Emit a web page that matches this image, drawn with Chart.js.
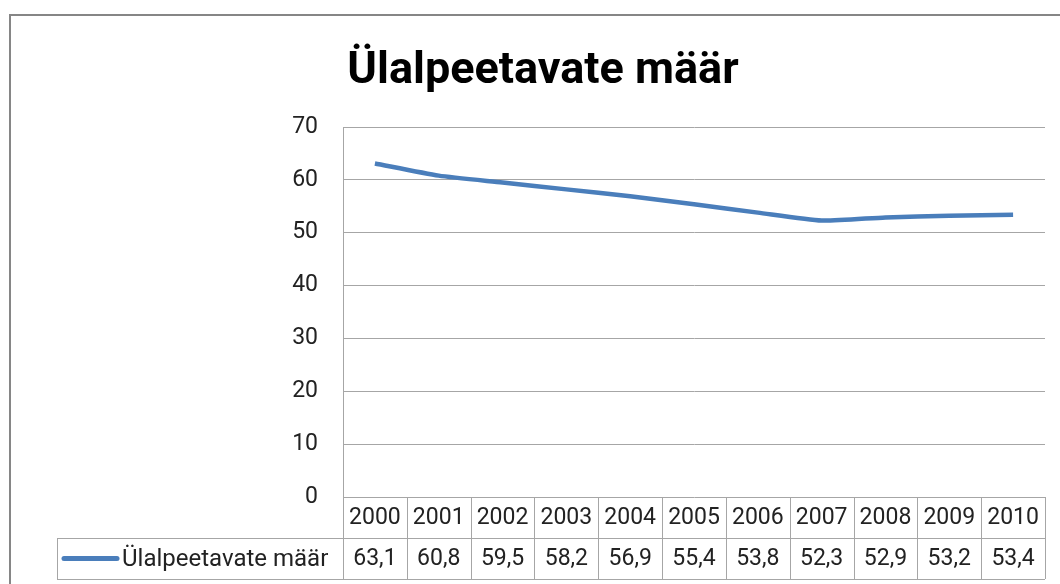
<!DOCTYPE html>
<html>
<head>
<meta charset="utf-8">
<script src="https://cdn.jsdelivr.net/npm/chart.js@4"></script>
<style>
  html, body { margin: 0; padding: 0; background: #fff; }
  #wrap { width: 1060px; height: 584px; }
</style>
</head>
<body>
<div id="wrap"><canvas id="chart" width="1060" height="584"></canvas></div>
<script>
// --- DATA ---
const years = ["2000", "2001", "2002", "2003", "2004", "2005", "2006", "2007", "2008", "2009", "2010"];
const values = [63.1, 60.8, 59.5, 58.2, 56.9, 55.4, 53.8, 52.3, 52.9, 53.2, 53.4];
const seriesName = "Ülalpeetavate määr";
const yMin = 0, yMax = 70, yStep = 10;

const FONT = "Roboto, 'Noto Sans', sans-serif";
const LINE_COLOR = "#4A7EBB";
const GRID_COLOR = "#a6a6a6";
const TEXT_COLOR = "#222";

// outer frame of the chart object
const framePlugin = {
  id: "frame",
  beforeDraw(chart) {
    const ctx = chart.ctx;
    ctx.save();
    ctx.strokeStyle = "#868686";
    ctx.lineWidth = 2;
    ctx.strokeRect(10, 15, 1200, 800);
    ctx.restore();
  }
};

// data table under the plot (Excel style)
const dataTablePlugin = {
  id: "dataTable",
  afterDraw(chart) {
    const ctx = chart.ctx;
    const x = chart.scales.x;
    const area = chart.chartArea;
    const half = (x.getPixelForValue(1) - x.getPixelForValue(0)) / 2;
    const top = area.bottom;
    const mid = 538;
    const bottom = 579;
    const legendLeft = 57;

    ctx.save();
    ctx.strokeStyle = GRID_COLOR;
    ctx.lineWidth = 1;
    ctx.beginPath();
    // horizontal lines
    ctx.moveTo(legendLeft, mid + 0.5); ctx.lineTo(area.right, mid + 0.5);
    ctx.moveTo(legendLeft, bottom + 0.5); ctx.lineTo(area.right, bottom + 0.5);
    // vertical lines
    ctx.moveTo(legendLeft + 0.5, mid); ctx.lineTo(legendLeft + 0.5, bottom);
    for (let i = 0; i <= years.length; i++) {
      const bx = Math.round(x.getPixelForValue(0) - half + i * 2 * half) + 0.5;
      ctx.moveTo(bx, top); ctx.lineTo(bx, bottom);
    }
    ctx.stroke();

    // texts
    ctx.fillStyle = TEXT_COLOR;
    ctx.font = "23px " + FONT;
    ctx.textAlign = "center";
    ctx.textBaseline = "middle";
    years.forEach((yr, i) => {
      const cx = x.getPixelForValue(i);
      ctx.fillText(yr, cx, (top + mid) / 2 + 1);
      ctx.fillText(values[i].toFixed(1).replace(".", ","), cx, (mid + bottom) / 2 + 1);
    });

    // legend key
    const ky = (mid + bottom) / 2;
    ctx.strokeStyle = LINE_COLOR;
    ctx.lineWidth = 5;
    ctx.lineCap = "round";
    ctx.beginPath();
    ctx.moveTo(64, ky); ctx.lineTo(117, ky);
    ctx.stroke();
    ctx.textAlign = "left";
    ctx.font = "24px " + FONT;
    ctx.fillText(seriesName, 122, ky + 1);
    ctx.restore();
  }
};

const chart = new Chart(document.getElementById("chart"), {
  type: "line",
  data: {
    labels: years,
    datasets: [{
      label: seriesName,
      data: values,
      borderColor: LINE_COLOR,
      borderWidth: 4.5,
      pointRadius: 0,
      tension: 0.2,
      fill: false
    }]
  },
  options: {
    responsive: false,
    animation: false,
    layout: { padding: { left: 41, right: 15, top: 0, bottom: 87 } },
    plugins: {
      legend: { display: false },
      tooltip: { enabled: false },
      title: {
        display: true,
        text: seriesName,
        color: "#000",
        font: { family: FONT, size: 45, weight: "bold", lineHeight: 1.2 },
        padding: { top: 45, bottom: 28 }
      }
    },
    scales: {
      x: {
        type: "category",
        display: false,
        offset: true
      },
      y: {
        min: yMin,
        max: yMax,
        afterFit(scale) { scale.width = 302; },
        ticks: {
          stepSize: yStep,
          padding: 25,
          color: TEXT_COLOR,
          font: { family: FONT, size: 23 }
        },
        grid: { color: GRID_COLOR, drawTicks: false },
        border: { display: true, color: GRID_COLOR }
      }
    }
  },
  plugins: [framePlugin, dataTablePlugin]
});
</script>
</body>
</html>
